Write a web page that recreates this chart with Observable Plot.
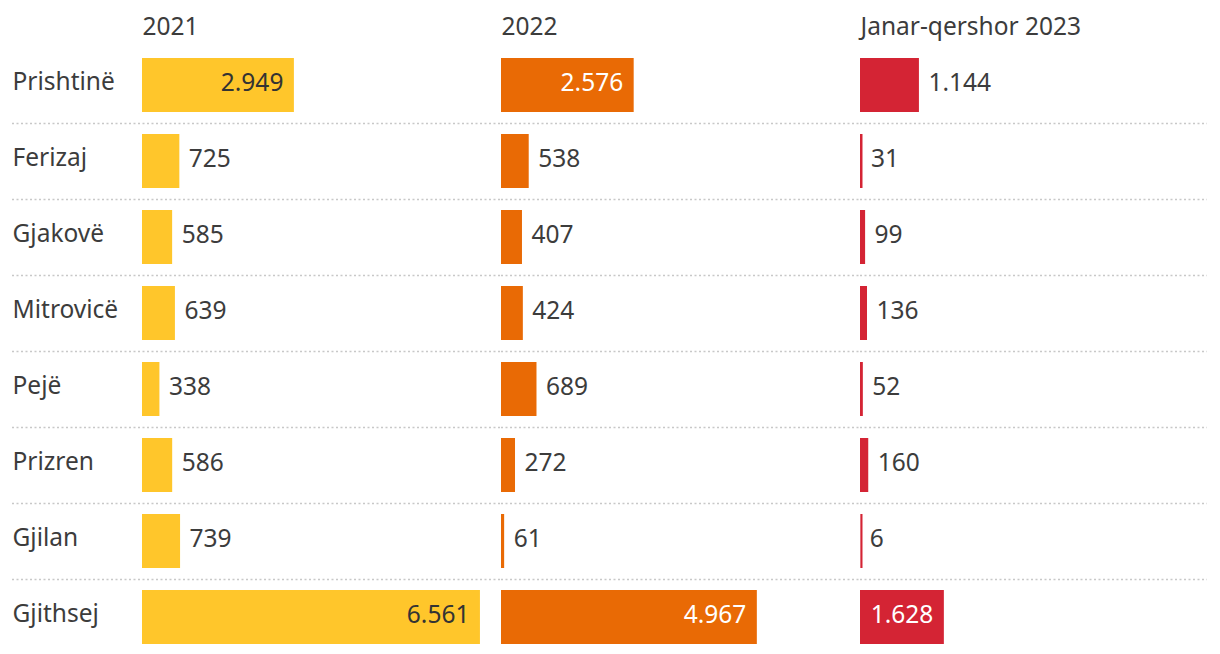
<!DOCTYPE html>
<html><head><meta charset="utf-8">
<script src="https://cdn.jsdelivr.net/npm/d3@7"></script>
<script src="https://cdn.jsdelivr.net/npm/@observablehq/plot@0.6"></script>
<style>body{margin:0;background:#fff}</style>
</head><body><div id="chart"></div>
<script>
const regions = ["Prishtinë","Ferizaj","Gjakovë","Mitrovicë","Pejë","Prizren","Gjilan","Gjithsej"];
const series = ["2021","2022","Janar-qershor 2023"];
const v2021 = [2949,725,585,639,338,586,739,6561];
const v2022 = [2576,538,407,424,689,272,61,4967];
const v2023 = [1144,31,99,136,52,160,6,1628];
const colors = ["#FFC62B","#E96A05","#D42434"];
const insideThreshold = 1500;

const values = [v2021, v2022, v2023];
const data = regions.flatMap((r,i)=> series.map((s,j)=>({region:r, series:s, value:values[j][i]})));
const fmt = d3.formatLocale({decimal:",", thousands:".", grouping:[3], currency:["","€"]}).format(",d");
const inside = data.filter(d=>d.value > insideThreshold);
const outside = data.filter(d=>d.value <= insideThreshold);
const seps = regions.slice(0,-1);
const sepStyle = {dy:38, stroke:"#c8c8c8", strokeDasharray:"2,2.5", strokeWidth:1.5};
const FS = 24.5;

const plot = Plot.plot({
  width:1220, height:654, marginLeft:142, marginRight:1, marginTop:58, marginBottom:10,
  style:{fontFamily:"Noto Sans", fontSize:FS+"px", color:"#3c3c3c", background:"#fff"},
  fx:{domain:series, padding:0, axis:null},
  x:{domain:[0,6970], axis:null},
  y:{domain:regions, paddingInner:0.29, paddingOuter:0, align:0.5},
  color:{domain:series, range:colors},
  marks:[
    Plot.ruleY(seps, {y:d=>d, fx:()=>series[0], insetLeft:-130, ...sepStyle}),
    Plot.ruleY(seps, {y:d=>d, fx:()=>series[1], ...sepStyle}),
    Plot.ruleY(seps, {y:d=>d, fx:()=>series[2], insetRight:12, ...sepStyle}),
    Plot.barX(data, {fx:"series", y:"region", x:"value", fill:"series"}),
    Plot.tickX(data, {fx:"series", y:"region", x:0, dx:1, stroke:"series", strokeWidth:2}),
    Plot.text(inside.filter(d=>d.series==="2021"), {fx:"series", y:"region", x:"value", text:d=>fmt(d.value), textAnchor:"end", dx:-11, dy:-2, fill:"#333", fontSize:FS}),
    Plot.text(inside.filter(d=>d.series!=="2021"), {fx:"series", y:"region", x:"value", text:d=>fmt(d.value), textAnchor:"end", dx:-11, dy:-2, fill:"white", fontSize:FS}),
    Plot.text(outside, {fx:"series", y:"region", x:"value", text:d=>fmt(d.value), textAnchor:"start", dx:9, dy:-2, fill:"#3c3c3c", fontSize:FS}),
    Plot.text(series, {fx:d=>d, text:d=>d, frameAnchor:"top-left", dy:-31, lineAnchor:"middle", textAnchor:"start", fill:"#3c3c3c", fontSize:FS}),
    Plot.axisY({tickSize:0, textAnchor:"start", dx:-121, dy:-3, fill:"#3c3c3c", fontSize:FS, label:null})
  ]
});
document.getElementById("chart").append(plot);
</script>
</body></html>
